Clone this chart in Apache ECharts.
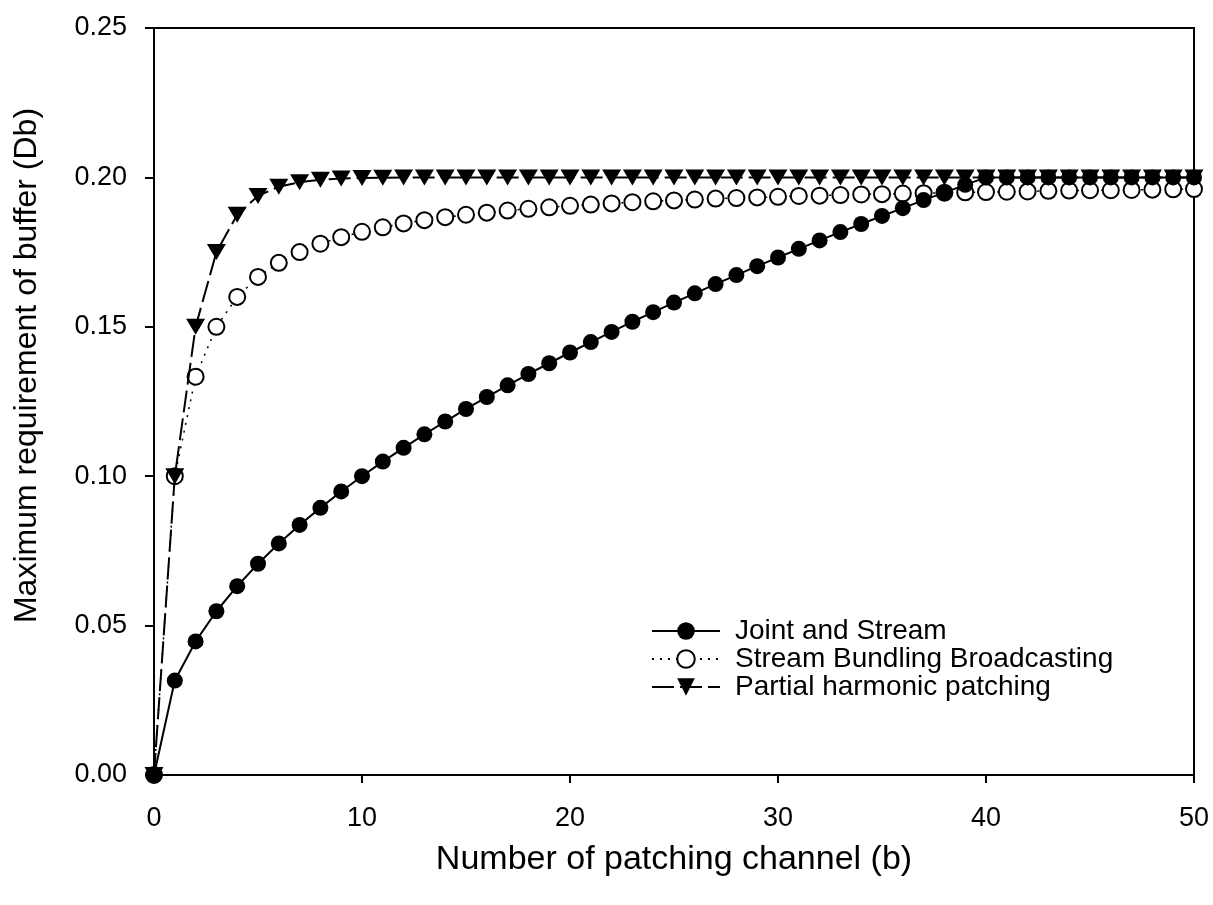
<!DOCTYPE html>
<html>
<head>
<meta charset="utf-8">
<style>
  html, body { margin: 0; padding: 0; background: #fff; }
  #chart { width: 1213px; height: 905px; }
</style>
<script src="https://cdn.jsdelivr.net/npm/echarts@6/dist/echarts.min.js"></script>
</head>
<body>
<div id="chart"></div>
<script>
var channels = [0, 1, 2, 3, 4, 5, 6, 7, 8, 9, 10, 11, 12, 13, 14, 15, 16, 17, 18, 19, 20,
  21, 22, 23, 24, 25, 26, 27, 28, 29, 30, 31, 32, 33, 34, 35, 36, 37, 38, 39, 40,
  41, 42, 43, 44, 45, 46, 47, 48, 49, 50];

var jointStream = [0, .0316, .0447, .0548, .0632, .0707, .0775, .0837, .0894, .0949, .1000,
  .1049, .1095, .1140, .1183, .1225, .1265, .1304, .1342, .1378, .1414,
  .1449, .1483, .1517, .1549, .1581, .1612, .1643, .1673, .1703, .1732,
  .1761, .1789, .1817, .1844, .1871, .1897, .1924, .1949, .1975, .2000,
  .2000, .2000, .2000, .2000, .2000, .2000, .2000, .2000, .2000, .2000];

var bundling = [0, .1000, .1333, .1500, .1600, .1667, .1714, .1750, .1778, .1800, .1818,
  .1833, .1846, .1857, .1867, .1875, .1882, .1889, .1895, .1900, .1905,
  .1909, .1913, .1917, .1920, .1923, .1926, .1929, .1931, .1933, .1935,
  .1938, .1939, .1941, .1943, .1944, .1946, .1947, .1949, .1950, .1951,
  .1952, .1953, .1955, .1956, .1957, .1957, .1958, .1959, .1960, .1961];

var harmonic = [0, .1000, .1500, .1750, .1875, .1938, .1969, .1984, .1992, .1996, .1998,
  .1999, .2000, .2000, .2000, .2000, .2000, .2000, .2000, .2000, .2000,
  .2000, .2000, .2000, .2000, .2000, .2000, .2000, .2000, .2000, .2000,
  .2000, .2000, .2000, .2000, .2000, .2000, .2000, .2000, .2000, .2000,
  .2000, .2000, .2000, .2000, .2000, .2000, .2000, .2000, .2000, .2000];

var seriesNames = ['Joint and Stream', 'Stream Bundling Broadcasting', 'Partial harmonic patching'];

function pairs(ys) {
  return channels.map(function (x, i) { return [x, ys[i]]; });
}

var font = '"Liberation Sans", Arial, sans-serif';
var myChart = echarts.init(document.getElementById('chart'));
var option = {
  animation: false,
  backgroundColor: '#fff',
  grid: {
    left: 154, right: 19, top: 28, bottom: 130,
    show: true, borderColor: '#000', borderWidth: 2
  },
  legend: {
    orient: 'vertical',
    left: 646, top: 612,
    itemWidth: 68, itemHeight: 22, itemGap: 0,
    textStyle: { fontFamily: font, fontSize: 28, color: '#000', padding: [0, 0, 0, 10] },
    data: seriesNames
  },
  xAxis: {
    type: 'value',
    min: 0, max: 50, interval: 10,
    name: 'Number of patching channel (b)',
    nameLocation: 'middle',
    nameGap: 68,
    nameTextStyle: { fontFamily: font, fontSize: 34, color: '#000' },
    axisLine: { lineStyle: { color: '#000', width: 2 } },
    axisTick: { length: 8, lineStyle: { color: '#000', width: 2 } },
    axisLabel: { fontFamily: font, fontSize: 27, color: '#000', margin: 30 },
    splitLine: { show: false }
  },
  yAxis: {
    type: 'value',
    min: 0, max: 0.25, interval: 0.05,
    name: 'Maximum requirement of buffer (Db)',
    nameLocation: 'middle',
    nameGap: 111,
    nameTextStyle: { fontFamily: font, fontSize: 32, color: '#000', padding: [0, 0, 0, 72] },
    axisLine: { lineStyle: { color: '#000', width: 2 } },
    axisTick: { length: 9, lineStyle: { color: '#000', width: 2 } },
    axisLabel: {
      fontFamily: font, fontSize: 27, color: '#000', margin: 27,
      formatter: function (v) { return v.toFixed(2); }
    },
    splitLine: { show: false }
  },
  series: [
    {
      name: seriesNames[2],
      type: 'line',
      z: 3,
      data: pairs(harmonic),
      symbol: 'triangle',
      symbolRotate: 180,
      symbolSize: [19, 16],
      itemStyle: { color: '#000' },
      lineStyle: { color: '#000', width: 2, type: [22, 6] }
    },
    {
      name: seriesNames[1],
      type: 'line',
      z: 2,
      data: pairs(bundling),
      symbol: 'emptyCircle',
      symbolSize: 16,
      itemStyle: { color: '#000', borderWidth: 2 },
      lineStyle: { color: '#000', width: 1.5, type: [2, 6] }
    },
    {
      name: seriesNames[0],
      type: 'line',
      z: 4,
      data: pairs(jointStream),
      symbol: 'circle',
      symbolSize: 16,
      itemStyle: { color: '#000' },
      lineStyle: { color: '#000', width: 2 }
    }
  ]
};
myChart.setOption(option);
</script>
</body>
</html>
